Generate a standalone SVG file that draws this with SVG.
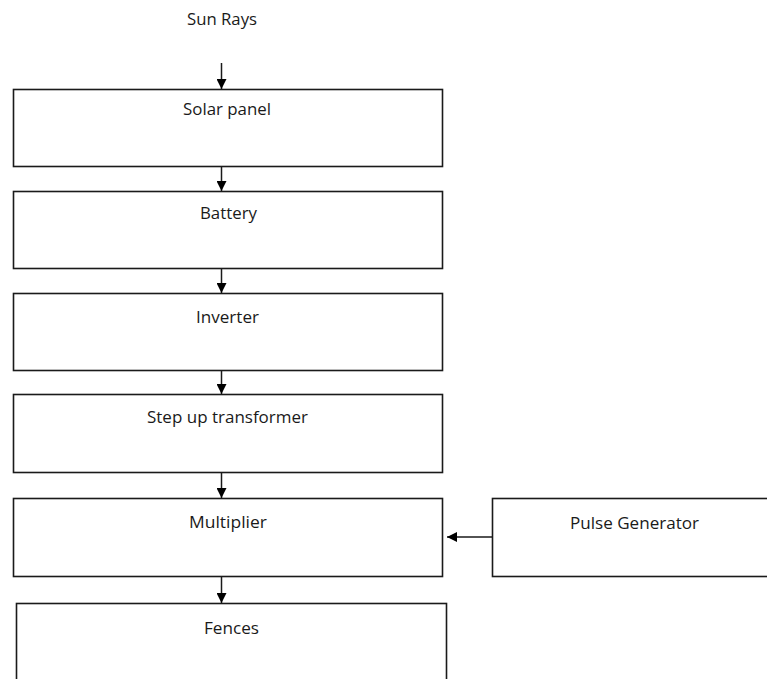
<svg xmlns="http://www.w3.org/2000/svg" width="767" height="679" viewBox="0 0 767 679">
<style>
.box{fill:#fff;stroke:#1a1a1a;stroke-width:1.6}
.lbl{font-family:"Open Sans","Liberation Sans",sans-serif;font-size:17px;fill:#1a1a1a}
.conn{stroke:#1a1a1a;stroke-width:1.5;fill:none}
</style>
<defs>
<marker id="ah" viewBox="0 0 10 10" refX="10" refY="5" markerWidth="10" markerHeight="10" markerUnits="userSpaceOnUse" orient="auto">
<path d="M0,0 L10,5 L0,10 Z" fill="#000"/>
</marker>
</defs>
<rect width="767" height="679" fill="#fff"/>
<g id="sun-rays"><text class="lbl" x="187" y="25" textLength="70" lengthAdjust="spacingAndGlyphs">Sun Rays</text></g>
<g id="solar-panel"><rect class="box" x="13.5" y="89.5" width="429" height="77"/><text class="lbl" x="183" y="115" textLength="88" lengthAdjust="spacingAndGlyphs">Solar panel</text></g>
<g id="battery"><rect class="box" x="13.5" y="191.5" width="429" height="77"/><text class="lbl" x="200" y="219" textLength="57" lengthAdjust="spacingAndGlyphs">Battery</text></g>
<g id="inverter"><rect class="box" x="13.5" y="293.5" width="429" height="77"/><text class="lbl" x="196" y="323" textLength="63" lengthAdjust="spacingAndGlyphs">Inverter</text></g>
<g id="step-up-transformer"><rect class="box" x="13.5" y="394.5" width="429" height="78"/><text class="lbl" x="147" y="423" textLength="161" lengthAdjust="spacingAndGlyphs">Step up transformer</text></g>
<g id="multiplier"><rect class="box" x="13.5" y="498.5" width="429" height="78"/><text class="lbl" x="189" y="528" textLength="78" lengthAdjust="spacingAndGlyphs">Multiplier</text></g>
<g id="pulse-generator"><rect class="box" x="492.5" y="498.5" width="300" height="78"/><text class="lbl" x="570" y="529" textLength="129" lengthAdjust="spacingAndGlyphs">Pulse Generator</text></g>
<g id="fences"><rect class="box" x="16.5" y="603.5" width="430" height="100"/><text class="lbl" x="204" y="634" textLength="55" lengthAdjust="spacingAndGlyphs">Fences</text></g>
<g id="connectors">
<line class="conn" x1="221.5" y1="63" x2="221.5" y2="89" marker-end="url(#ah)"/>
<line class="conn" x1="221.5" y1="166.5" x2="221.5" y2="191" marker-end="url(#ah)"/>
<line class="conn" x1="221.5" y1="268.5" x2="221.5" y2="293" marker-end="url(#ah)"/>
<line class="conn" x1="221.5" y1="370.5" x2="221.5" y2="394" marker-end="url(#ah)"/>
<line class="conn" x1="221.5" y1="472.5" x2="221.5" y2="498" marker-end="url(#ah)"/>
<line class="conn" x1="221.5" y1="576.5" x2="221.5" y2="603" marker-end="url(#ah)"/>
<line class="conn" x1="492" y1="537" x2="447" y2="537" marker-end="url(#ah)"/>
</g>
</svg>
